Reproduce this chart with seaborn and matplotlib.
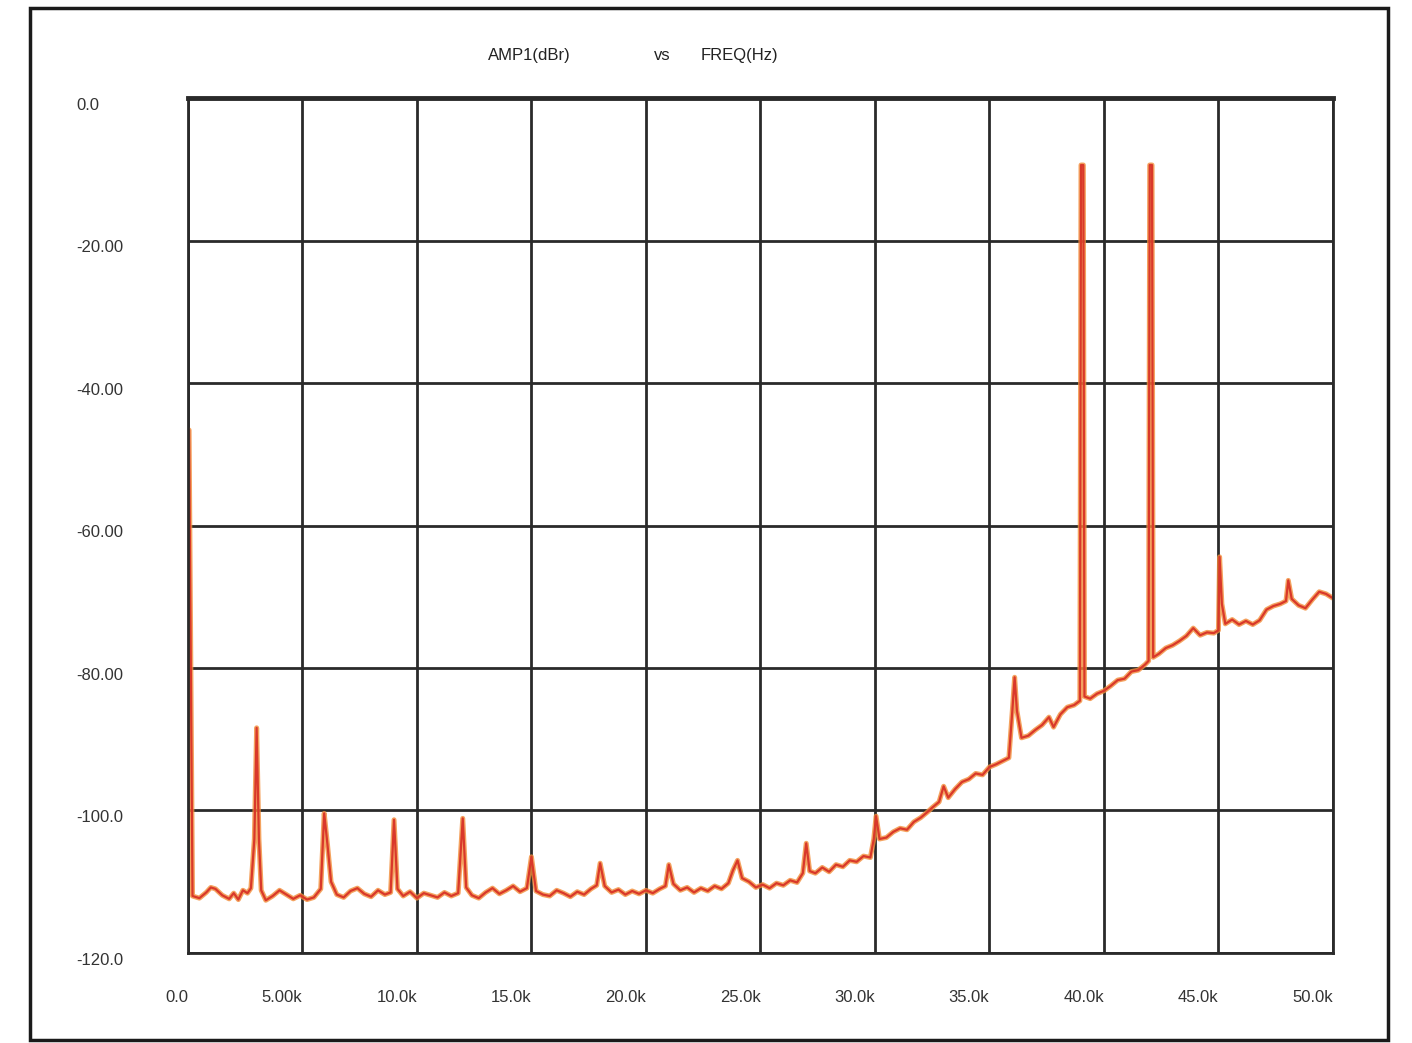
import matplotlib
matplotlib.use("Agg")
import matplotlib.pyplot as plt
import matplotlib.transforms as mtransforms
import seaborn as sns
import pandas as pd
from matplotlib.patches import Rectangle

# ---- data (frequency in kHz, amplitude in dBr) ----
freq_khz = [
    0.0, 0.05, 0.2, 0.5, 0.8, 1.0, 1.2, 1.5, 1.8, 2.0, 2.2, 2.4, 2.6, 2.75, 2.9, 3.0, 3.1, 3.2,
    3.4, 3.7, 4.0, 4.3, 4.6, 4.9, 5.2, 5.5, 5.8, 5.95, 6.1, 6.25, 6.5, 6.8, 7.1, 7.4, 7.7, 8.0,
    8.3, 8.6, 8.85, 9.0, 9.15, 9.4, 9.7, 10.0, 10.3, 10.6, 10.9, 11.2, 11.5, 11.8, 12.0, 12.15,
    12.4, 12.7, 13.0, 13.3, 13.6, 13.9, 14.2, 14.5, 14.8, 15.0, 15.2, 15.5, 15.8, 16.1, 16.4,
    16.7, 17.0, 17.3, 17.6, 17.85, 18.0, 18.2, 18.5, 18.8, 19.1, 19.4, 19.7, 20.0, 20.3, 20.6,
    20.85, 21.0, 21.2, 21.5, 21.8, 22.1, 22.4, 22.7, 23.0, 23.3, 23.6, 23.8, 24.0, 24.2, 24.5,
    24.8, 25.1, 25.4, 25.7, 26.0, 26.3, 26.6, 26.85, 27.0, 27.15, 27.4, 27.7, 28.0, 28.3, 28.6,
    28.9, 29.2, 29.5, 29.8, 29.95, 30.05, 30.2, 30.5, 30.8, 31.1, 31.4, 31.7, 32.0, 32.3, 32.5,
    32.8, 33.0, 33.2, 33.5, 33.8, 34.1, 34.4, 34.7, 35.0, 35.3, 35.6, 35.85, 36.0, 36.1, 36.2,
    36.4, 36.7, 37.0, 37.3, 37.6, 37.8, 38.1, 38.4, 38.7, 38.95, 39.0, 39.1, 39.15, 39.4, 39.7,
    40.0, 40.3, 40.6, 40.9, 41.2, 41.5, 41.8, 41.95, 42.0, 42.1, 42.15, 42.4, 42.7, 43.0, 43.3,
    43.6, 43.9, 44.2, 44.5, 44.8, 45.0, 45.05, 45.15, 45.3, 45.6, 45.9, 46.2, 46.5, 46.8, 47.1,
    47.4, 47.7, 47.95, 48.05, 48.2, 48.5, 48.8, 49.1, 49.4, 49.7, 50.0,
]
amp_dbr = [
    -46.6, -46.6, -112.0, -112.3, -111.5, -110.8, -111.0, -111.9, -112.4, -111.6, -112.5, -111.2,
    -111.6, -110.9, -104.0, -88.4, -104.0, -111.2,
    -112.6, -112.0, -111.2, -111.8, -112.4, -111.9, -112.5, -112.2, -111.0, -100.4, -105.0, -110.0,
    -111.8, -112.2, -111.3, -110.9, -111.7, -112.1,
    -111.2, -111.8, -111.5, -101.3, -111.0, -112.0, -111.4, -112.3, -111.6, -111.9, -112.2, -111.5,
    -112.0, -111.6, -101.1, -110.8,
    -111.9, -112.3, -111.5, -110.9, -111.7, -111.2, -110.6, -111.4, -110.9, -106.5, -111.3, -111.8,
    -112.0, -111.2, -111.6,
    -112.1, -111.4, -111.8, -111.0, -110.5, -107.4, -110.6, -111.5, -111.1, -111.8, -111.3, -111.7,
    -111.2, -111.6, -111.0,
    -110.6, -107.6, -110.3, -111.2, -110.8, -111.5, -110.9, -111.3, -110.6, -111.0, -110.2, -108.4,
    -107.0, -109.5, -110.0,
    -110.8, -110.4, -110.9, -110.2, -110.5, -109.8, -110.1, -108.8, -104.6, -108.5, -108.8, -108.0,
    -108.6, -107.6, -107.9,
    -107.0, -107.2, -106.4, -106.6, -104.0, -100.8, -104.0, -103.8, -103.0, -102.5, -102.7, -101.6,
    -101.0, -100.2, -99.6,
    -98.8, -96.6, -98.2, -97.0, -96.0, -95.6, -94.8, -95.0, -93.9, -93.5, -93.0, -92.6, -86.0,
    -81.3, -86.0,
    -89.8, -89.5, -88.7, -88.0, -86.9, -88.3, -86.5, -85.5, -85.2, -84.6, -9.4, -9.4, -84.0, -84.3,
    -83.6,
    -83.2, -82.5, -81.7, -81.5, -80.5, -80.3, -79.5, -79.0, -9.4, -9.4, -78.5, -78.0, -77.2, -76.8,
    -76.2,
    -75.5, -74.4, -75.4, -75.0, -75.1, -74.7, -64.4, -71.0, -73.8, -73.2, -73.9, -73.4, -73.9,
    -73.3, -71.8,
    -71.3, -71.0, -70.6, -67.7, -70.3, -71.2, -71.6, -70.4, -69.3, -69.6, -70.2,
]
x_ticks_khz = [0, 5, 10, 15, 20, 25, 30, 35, 40, 45, 50]
x_tick_labels = ["0.0", "5.00k", "10.0k", "15.0k", "20.0k", "25.0k", "30.0k",
                 "35.0k", "40.0k", "45.0k", "50.0k"]
y_ticks = [0, -20, -40, -60, -80, -100, -120]
y_tick_labels = ["0.0", "-20.00", "-40.00", "-60.00", "-80.00", "-100.0", "-120.0"]

df = pd.DataFrame({"freq": [f * 1000 for f in freq_khz], "amp": amp_dbr})

sns.set_style("white")
plt.rcParams["font.family"] = ["Liberation Sans", "DejaVu Sans"]

fig = plt.figure(figsize=(14.12, 10.43), dpi=100)
ax = fig.add_axes([0.1331, 0.0863, 0.8109, 0.8197])

sns.lineplot(data=df, x="freq", y="amp", ax=ax, color="#f28c38", linewidth=3.6,
             estimator=None, sort=False, alpha=0.8)
sns.lineplot(data=df, x="freq", y="amp", ax=ax, color="#d9382a", linewidth=1.6,
             estimator=None, sort=False)

ax.set_xlim(0, 50000)
ax.set_ylim(-120, 0)
ax.set_xticks([t * 1000 for t in x_ticks_khz])
ax.set_xticklabels(x_tick_labels, ha="right", fontsize=12, color="#333333")
ax.set_yticks(y_ticks)
ax.set_yticklabels(y_tick_labels, fontsize=12, color="#333333", ha="left")
ax.tick_params(axis="y", pad=80.5, length=0)
ax.tick_params(axis="x", pad=27, length=0)
shift = mtransforms.ScaledTranslation(0, -4 / 72, fig.dpi_scale_trans)
for lab in ax.get_yticklabels():
    lab.set_transform(lab.get_transform() + shift)
ax.set_xlabel("")
ax.set_ylabel("")
ax.grid(True, color="#2a2a2a", linewidth=2.0)
ax.set_axisbelow(True)
for side in ["left", "right", "bottom"]:
    ax.spines[side].set_color("#2a2a2a")
    ax.spines[side].set_linewidth(2.0)
ax.spines["top"].set_color("#2a2a2a")
ax.spines["top"].set_linewidth(3.5)

fig.text(0.375, 0.947, "AMP1(dBr)", ha="center", va="center", fontsize=12, color="#222222")
fig.text(0.469, 0.947, "vs", ha="center", va="center", fontsize=12, color="#222222")
fig.text(0.524, 0.947, "FREQ(Hz)", ha="center", va="center", fontsize=12, color="#222222")

frame = Rectangle((0.021, 0.003), 0.962, 0.989, transform=fig.transFigure,
                  fill=False, edgecolor="#1a1a1a", linewidth=2.5)
fig.patches.append(frame)

fig.savefig("out.png", dpi=100)
